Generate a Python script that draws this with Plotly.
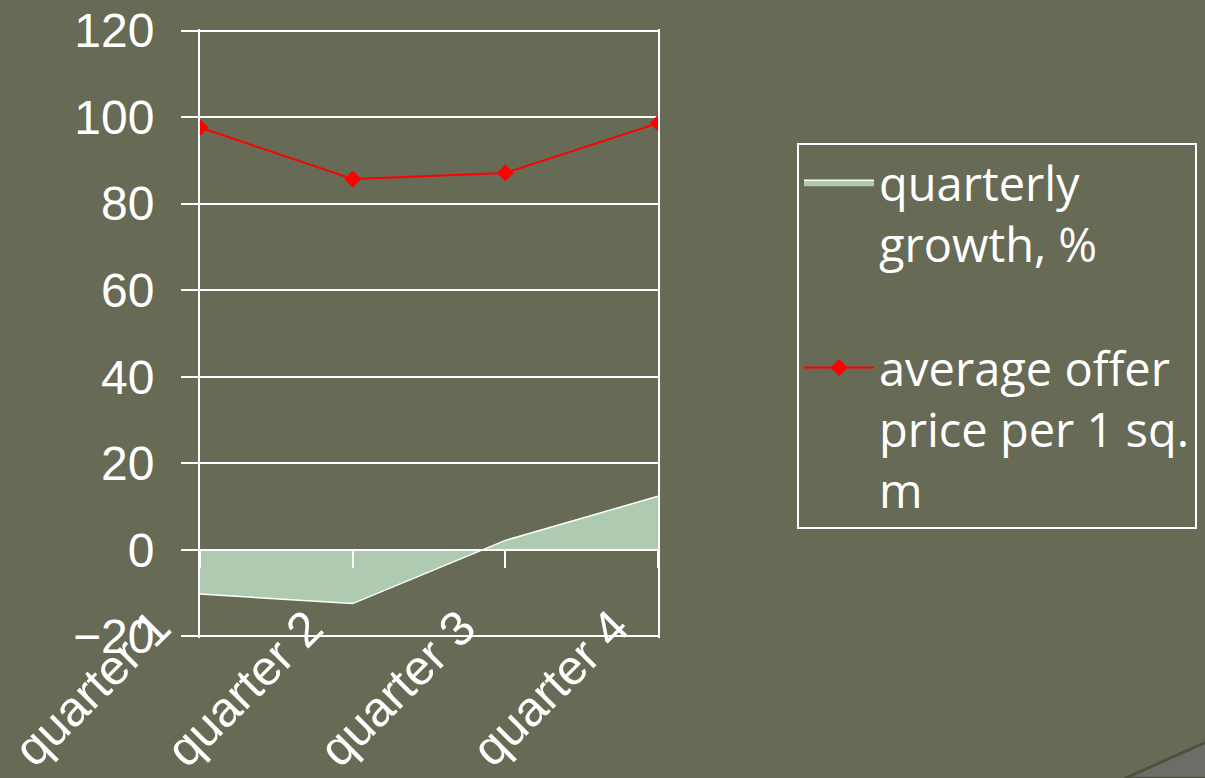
import plotly.graph_objects as go

# Quarterly figures
quarters = ["quarter 1", "quarter 2", "quarter 3", "quarter 4"]
growth_pct = [-10.2, -12.4, 2.2, 12.4]
avg_price = [97.6, 85.7, 87.1, 98.6]

y_ticks = [-20, 0, 20, 40, 60, 80, 100, 120]
y_lo, y_hi = -20.35, 120.35   # small pad so the edge gridlines are kept

BG = "#676A55"
WHITE = "#FFFFFF"
AREA_FILL = "#AECBB1"
RED = "#FF0000"

W, H = 1205, 778
L, R, T, B = 200, 547, 28.5, 139.5
plot_w = W - L - R
plot_h = H - T - B


def px_to_paper(px, py):
    return (px - L) / plot_w, (H - B - py) / plot_h


fig = go.Figure()

fig.add_trace(go.Scatter(
    x=quarters, y=growth_pct,
    name="quarterly<br>growth, %",
    mode="lines",
    line=dict(color=WHITE, width=1.5),
    fill="tozeroy", fillcolor=AREA_FILL,
    legendgroup="growth",
))

fig.add_trace(go.Scatter(
    x=quarters, y=avg_price,
    name="average offer<br>price per 1 sq.<br>m",
    mode="lines+markers",
    line=dict(color=RED, width=2),
    marker=dict(symbol="diamond", size=13, color=RED),
    legendgroup="price",
))

# Category labels, slanted under the plot
for q in quarters:
    fig.add_annotation(
        x=q, xref="x", y=-20, yref="y",
        text=q, showarrow=False, textangle=-45,
        xanchor="right", yanchor="top",
        xshift=-17, yshift=40,
        font=dict(family="Liberation Sans, Arial, sans-serif", size=49, color=WHITE),
    )

# Slide corner accent
c0 = px_to_paper(1125, 779)
c1 = px_to_paper(1210, 741)
c2 = px_to_paper(1210, 779)
fig.add_shape(
    type="path", xref="paper", yref="paper",
    path=f"M{c0[0]},{c0[1]} L{c1[0]},{c1[1]} L{c2[0]},{c2[1]} Z",
    fillcolor="#6C6C68", line=dict(color="#4E5140", width=3), layer="below",
)

lx, ly = px_to_paper(797, 143)

fig.update_layout(
    width=W, height=H,
    margin=dict(l=L, r=R, t=T, b=B, autoexpand=False),
    paper_bgcolor=BG, plot_bgcolor=BG,
    font=dict(family="Liberation Sans, Arial, sans-serif", color=WHITE),
    showlegend=True,
    legend=dict(
        x=lx, y=ly, xanchor="left", yanchor="top",
        bgcolor="rgba(0,0,0,0)", bordercolor=WHITE, borderwidth=2,
        font=dict(family="Open Sans, sans-serif", size=47, color=WHITE),
        valign="top", tracegroupgap=60, traceorder="grouped",
        itemwidth=70,
    ),
    xaxis=dict(
        type="category", categoryorder="array", categoryarray=quarters,
        range=[0, 3], anchor="free", position=(0 - y_lo) / (y_hi - y_lo),
        showline=True, linecolor=WHITE, linewidth=2,
        ticks="outside", ticklen=17, tickwidth=2, tickcolor=WHITE,
        showticklabels=False, showgrid=False, zeroline=False,
    ),
    yaxis=dict(
        range=[y_lo, y_hi], tickvals=y_ticks,
        showgrid=True, gridcolor=WHITE, gridwidth=2,
        showline=True, mirror=True, linecolor=WHITE, linewidth=2,
        ticks="outside", ticklen=17, tickwidth=2, tickcolor=WHITE,
        ticklabelstandoff=17,
        tickfont=dict(family="Liberation Sans, Arial, sans-serif", size=48, color=WHITE),
        zeroline=False,
    ),
)

fig.write_html("out.html")
